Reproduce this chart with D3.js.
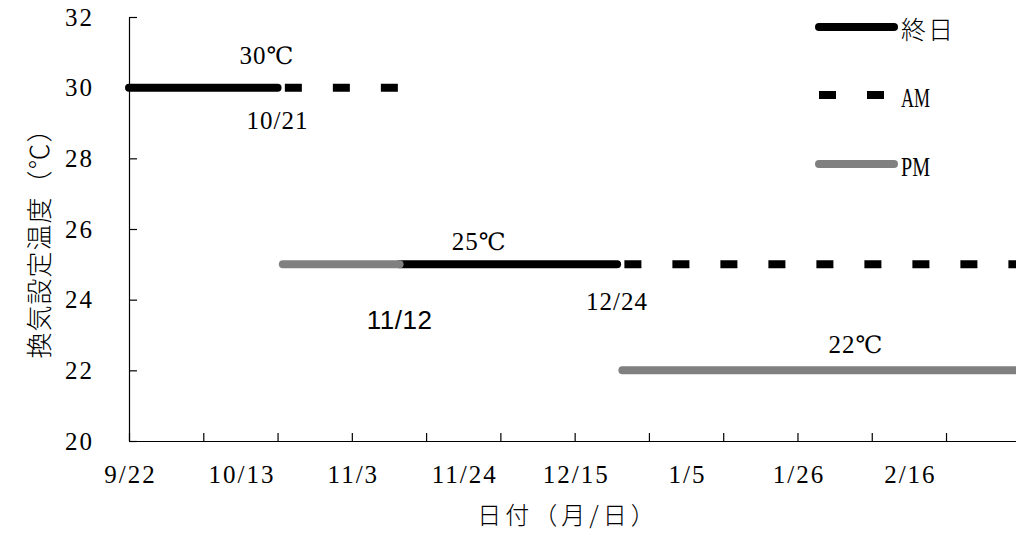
<!DOCTYPE html>
<html>
<head>
<meta charset="utf-8">
<script src="https://cdn.jsdelivr.net/npm/d3@7"></script>
<style>
  html, body { margin: 0; padding: 0; background: #fff; overflow: hidden; }
  svg { display: block; }
  .num { font-family: "Liberation Serif", "Noto Sans CJK JP", serif; font-size: 25px; letter-spacing: 2px; fill: #000; }
  .deg { font-family: "DejaVu Serif", serif; font-size: 24px; }
  .jp { font-family: "Noto Sans CJK JP", sans-serif; font-weight: 300; fill: #000; }
</style>
</head>
<body>
<svg id="chart" width="1016" height="535"></svg>
<script>
// ---- data ----
const yTicks = [20, 22, 24, 26, 28, 30, 32];
const xTickDates = ["2014-09-22","2014-10-06","2014-10-20","2014-11-03","2014-11-17","2014-12-01","2014-12-15",
                    "2014-12-29","2015-01-12","2015-01-26","2015-02-09","2015-02-23","2015-03-09"];
const xLabelDates = ["2014-09-22","2014-10-13","2014-11-03","2014-11-24","2014-12-15","2015-01-05","2015-01-26","2015-02-16"];
const xLabels = ["9/22","10/13","11/3","11/24","12/15","1/5","1/26","2/16"];

const seriesNames = ["終日", "AM", "PM"];
// each series: list of segments, each segment [date, temperature] pairs
const allDay = [[["2014-09-22", 30], ["2014-10-20", 30]], [["2014-11-12", 25], ["2014-12-23", 25]]];
const amOnly = [[["2014-10-21", 30], ["2014-11-12", 30]], [["2014-12-24", 25], ["2015-03-09", 25]]];
const pmOnly = [[["2014-10-21", 25], ["2014-11-12", 25]], [["2014-12-24", 22], ["2015-03-09", 22]]];

const annotations = [
  { text: "30℃",  date: "2014-10-18", value: 30, dy: -32, cls: "num" },
  { text: "10/21", date: "2014-10-20", value: 30, dy: 33,  cls: "num" },
  { text: "25℃",  date: "2014-11-27", value: 25, dy: -23, cls: "num" },
  { text: "11/12", date: "2014-11-12", value: 25, dy: 56,  cls: "sans" },
  { text: "12/24", date: "2014-12-23", value: 25, dy: 37,  cls: "num" },
  { text: "22℃",  date: "2015-02-06", value: 22, dy: -26, cls: "num" }
];

// ---- chart ----
const parse = d3.utcParse("%Y-%m-%d");
const svg = d3.select("#chart");
const x = d3.scaleUtc().domain([parse("2014-09-22"), parse("2015-03-09")]).range([129, 1020.3]);
const y = d3.scaleLinear().domain([20, 32]).range([441, 17]);

// axes
const yAxis = svg.append("g").attr("transform", "translate(129,0)")
  .call(d3.axisLeft(y).tickValues(yTicks).tickSizeInner(-8).tickSizeOuter(0).tickPadding(35).tickFormat(d3.format("d")));
yAxis.selectAll("text").attr("class", "num").attr("font-family", null).attr("font-size", null).attr("dy", "0.33em");

const xAxis = svg.append("g").attr("transform", "translate(0,441)")
  .call(d3.axisBottom(x).tickValues(xTickDates.map(parse)).tickSizeInner(-8).tickSizeOuter(0).tickFormat(""));

const xLab = svg.append("g").attr("transform", "translate(0,441)")
  .call(d3.axisBottom(x).tickValues(xLabelDates.map(parse)).tickSize(0).tickPadding(0)
        .tickFormat((d, i) => xLabels[i]));
xLab.select(".domain").remove();
xLab.selectAll("text").attr("class", "num").attr("font-family", null).attr("font-size", null)
  .attr("y", 34).attr("dy", "0.33em").attr("dx", "1px");

svg.selectAll(".domain, .tick line").attr("stroke", "#000").attr("stroke-width", 1.2);

// series lines
const line = d3.line().x(d => x(parse(d[0]))).y(d => y(d[1]));
const styles = {
  "終日": { stroke: "#000", dash: null, cap: "round" },
  "AM":   { stroke: "#000", dash: "17,31", cap: "butt" },
  "PM":   { stroke: "#808080", dash: null, cap: "round" }
};
[[seriesNames[0], allDay], [seriesNames[1], amOnly], [seriesNames[2], pmOnly]].forEach(([name, segs]) => {
  const s = styles[name];
  svg.append("g").selectAll("path").data(segs).join("path")
    .attr("d", line)
    .attr("fill", "none")
    .attr("stroke", s.stroke)
    .attr("stroke-width", 8)
    .attr("stroke-linecap", s.cap)
    .attr("stroke-dasharray", s.dash)
    .attr("stroke-dashoffset", s.dash ? -2 : null);
});

// annotations
const ann = svg.append("g").selectAll("text").data(annotations).join("text")
  .attr("x", d => x(parse(d.date)))
  .attr("y", d => y(d.value) + d.dy)
  .attr("dy", "0.33em")
  .attr("text-anchor", "middle")
  .attr("class", d => d.cls === "num" ? "num" : null)
  .style("font-family", d => d.cls === "sans" ? "'Liberation Sans', Arial, sans-serif" : null)
  .style("font-size", d => d.cls === "sans" ? "26px" : null)
  .style("letter-spacing", d => d.cls === "sans" ? "0.5px" : "1px");
ann.each(function(d) {
  const t = d3.select(this);
  const parts = d.text.split("℃");
  t.append("tspan").text(parts[0]);
  if (parts.length > 1) t.append("tspan").attr("class", "deg").text("℃");
});

// legend
const legendY = [27, 95, 164];
const lg = svg.append("g");
seriesNames.forEach((name, i) => {
  const s = styles[name];
  lg.append("line")
    .attr("x1", 819).attr("x2", 894).attr("y1", legendY[i]).attr("y2", legendY[i])
    .attr("stroke", s.stroke).attr("stroke-width", 8)
    .attr("stroke-linecap", s.cap).attr("stroke-dasharray", s.dash);
  const t = lg.append("text")
    .attr("x", 901).attr("y", legendY[i] + 3).attr("dy", "0.35em")
    .text(name);
  if (i === 0) {
    t.attr("class", "jp").style("font-size", "25px").style("letter-spacing", "2px");
  } else {
    t.attr("class", "num").style("letter-spacing", "0px").style("font-size", "27px")
     .attr("textLength", 29).attr("lengthAdjust", "spacingAndGlyphs");
  }
});

// axis titles
svg.append("text").attr("class", "jp")
  .attr("transform", "translate(40,237) rotate(-90)")
  .attr("text-anchor", "middle").attr("dy", "0.35em")
  .style("font-size", "26px").style("letter-spacing", "1px")
  .text("換気設定温度（℃）");

svg.append("text").attr("class", "jp")
  .attr("x", 568).attr("y", 516).attr("dy", "0.35em")
  .attr("text-anchor", "middle")
  .style("font-size", "24px").style("letter-spacing", "4px")
  .text("日付（月/日）");
</script>
</body>
</html>
